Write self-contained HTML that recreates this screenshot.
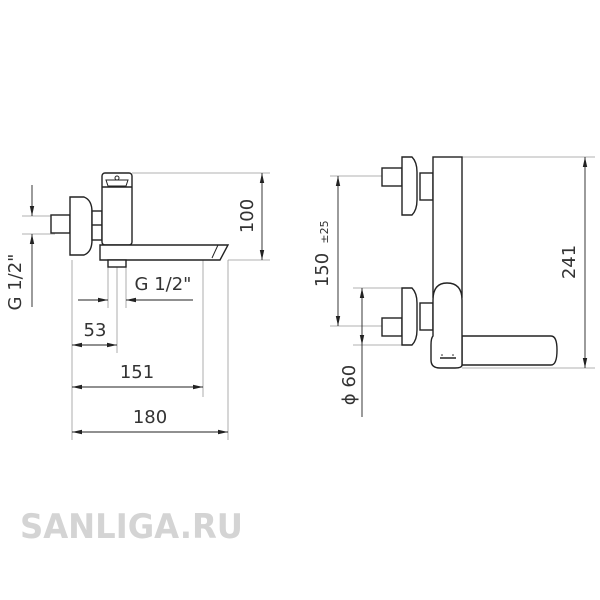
<!DOCTYPE html>
<html><head><meta charset="utf-8"><style>
html,body{margin:0;padding:0;background:#fff;width:600px;height:600px;overflow:hidden}
svg{display:block}
text{font-family:"DejaVu Sans","Liberation Sans",sans-serif;fill:#333}
</style></head><body>
<svg width="600" height="600" viewBox="0 0 600 600">
<defs>
<marker id="a" viewBox="0 0 10 6" refX="10" refY="3" markerWidth="10" markerHeight="6" orient="auto-start-reverse" markerUnits="userSpaceOnUse"><path d="M0,0.8 L10,3 L0,5.2z" fill="#222"/></marker>
</defs>
<g stroke="#999" stroke-width="0.8" fill="none">
<line x1="132" y1="173" x2="270" y2="173"/>
<line x1="228" y1="260" x2="270" y2="260"/>
<line x1="22" y1="216" x2="55" y2="216"/>
<line x1="22" y1="234" x2="55" y2="234"/>
<line x1="108" y1="262" x2="108" y2="308"/>
<line x1="126" y1="262" x2="126" y2="308"/>
<line x1="117" y1="267" x2="117" y2="353"/>
<line x1="72" y1="260" x2="72" y2="440"/>
<line x1="203" y1="260" x2="203" y2="397"/>
<line x1="228" y1="260" x2="228" y2="440"/>
<line x1="462" y1="157" x2="595" y2="157"/>
<line x1="462" y1="368" x2="595" y2="368"/>
<line x1="330" y1="176" x2="383" y2="176"/>
<line x1="330" y1="326" x2="383" y2="326"/>
<line x1="353" y1="288" x2="403" y2="288"/>
<line x1="353" y1="345" x2="403" y2="345"/>
</g>
<g stroke="#222" stroke-width="0.9" fill="none">
<line x1="262" y1="173" x2="262" y2="260" marker-start="url(#a)" marker-end="url(#a)"/>
<line x1="32" y1="185" x2="32" y2="216" marker-end="url(#a)"/>
<line x1="32" y1="234" x2="32" y2="307" marker-start="url(#a)"/>
<line x1="78" y1="300" x2="108" y2="300" marker-end="url(#a)"/>
<line x1="126" y1="300" x2="193" y2="300" marker-start="url(#a)"/>
<line x1="72" y1="345" x2="117" y2="345" marker-start="url(#a)" marker-end="url(#a)"/>
<line x1="72" y1="387" x2="203" y2="387" marker-start="url(#a)" marker-end="url(#a)"/>
<line x1="72" y1="432" x2="228" y2="432" marker-start="url(#a)" marker-end="url(#a)"/>
<line x1="585" y1="157" x2="585" y2="368" marker-start="url(#a)" marker-end="url(#a)"/>
<line x1="338" y1="176" x2="338" y2="326" marker-start="url(#a)" marker-end="url(#a)"/>
<line x1="362" y1="288" x2="362" y2="345" marker-start="url(#a)" marker-end="url(#a)"/>
<line x1="362" y1="345" x2="362" y2="417"/>
</g>
<g stroke="#222" stroke-width="1.4" fill="#fff">
<rect x="51" y="215" width="19" height="18"/>
<path d="M70,197 L84,197 Q92,200 92,212 L92,240 Q92,252 84,255 L70,255z"/>
<rect x="92" y="211" width="10" height="29"/>
<line x1="92" y1="225" x2="102" y2="225"/>
<rect x="102" y="173" width="30" height="72" rx="3"/>
<line x1="102" y1="187" x2="132" y2="187"/>
<path d="M106,180 L128,180 L126,186 L108,186z" stroke-width="1"/>
<circle cx="117" cy="178" r="2" stroke-width="1"/>
<path d="M100,245 L228,245 L220,260 L100,260z"/>
<line x1="218" y1="245" x2="212" y2="258" stroke-width="1"/>
<rect x="108" y="260" width="18" height="7"/>
</g>
<g stroke="#222" stroke-width="1.4" fill="#fff">
<rect x="382" y="168" width="20" height="18"/>
<path d="M402,157 L412,157 Q417,162 417,172 L417,200 Q417,210 412,215 L402,215z"/>
<rect x="420" y="173" width="13" height="27"/>
<rect x="382" y="318" width="20" height="18"/>
<path d="M402,288 L412,288 Q417,293 417,303 L417,330 Q417,340 412,345 L402,345z"/>
<rect x="420" y="303" width="13" height="27"/>
<rect x="433" y="157" width="29" height="140"/>
<path d="M462,336 L551,336 Q557,336 557,350 Q557,365 551,365 L462,365z"/>
<path d="M433,300 Q433,283 447,283 Q462,283 462,300 L462,365 Q462,368 455,368 L440,368 Q431,368 431,360 L431,345 Q431,338 433,336z"/>
<line x1="440" y1="358" x2="456" y2="358" stroke-width="1.5"/>
</g>
<circle cx="442" cy="355" r="0.8" fill="#222"/><circle cx="453" cy="355" r="0.8" fill="#222"/>
<g font-size="18">
<text transform="translate(253,216) rotate(-90)" text-anchor="middle">100</text>
<text transform="translate(21,282) rotate(-90)" text-anchor="middle">G 1/2"</text>
<text x="163" y="290" text-anchor="middle">G 1/2"</text>
<text x="95" y="336" text-anchor="middle">53</text>
<text x="137" y="378" text-anchor="middle">151</text>
<text x="150" y="423" text-anchor="middle">180</text>
<text transform="translate(575,262) rotate(-90)" text-anchor="middle">241</text>
<text transform="translate(328,270) rotate(-90)" text-anchor="middle">150</text>
<text transform="translate(328,232) rotate(-90)" text-anchor="middle" font-size="11">±25</text>
<text transform="translate(355,385) rotate(-90)" text-anchor="middle">ϕ 60</text>
</g>
<text x="20" y="538" font-family="Liberation Sans,sans-serif" font-weight="bold" font-size="34" style="fill:#d4d4d4" textLength="223" lengthAdjust="spacingAndGlyphs">SANLIGA.RU</text>
</svg>
</body></html>
